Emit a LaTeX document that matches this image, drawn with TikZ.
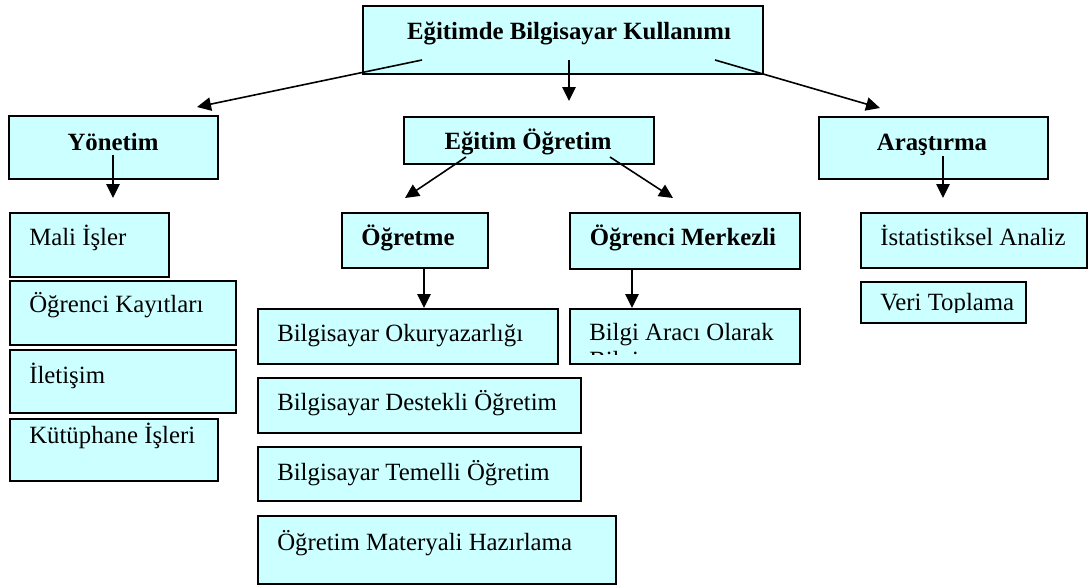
\documentclass[tikz,border=0pt]{standalone}
\usepackage{fontspec}
\setmainfont{Liberation Serif}
\usetikzlibrary{arrows.meta,calc}
\definecolor{boxfill}{HTML}{CCFFFF}
\tikzset{
  box/.style={draw=black, line width=1.3pt, fill=boxfill, inner sep=0pt, anchor=north west},
  lbl/.style={anchor=base west, inner sep=0pt, font=\fontsize{18.6}{22}\selectfont},
  blbl/.style={anchor=base, inner sep=0pt, font=\fontsize{18.6}{22}\selectfont\bfseries},
  arr/.style={line width=1.2pt, -{Triangle[length=10.5pt,width=10pt]}}
}
\newcommand\mkbox[5]{\node[box, minimum width={(#4-#2)*0.75pt}, minimum height={(#5-#3)*0.75pt}] (#1) at (#2,#3) {};}
\begin{document}
\begin{tikzpicture}[x=0.75pt,y=-0.75pt]
\useasboundingbox (0,0) rectangle (1088,586);
% boxes
\mkbox{top}{362}{5}{762}{73}
\mkbox{yon}{8}{115}{217}{178}
\mkbox{eo}{403}{116}{653}{163}
\mkbox{ara}{818}{116}{1047}{178}
\mkbox{mali}{9}{212}{168}{276}
\mkbox{kay}{9}{280}{235}{344}
\mkbox{ilet}{9}{349}{235}{412}
\mkbox{kut}{9}{418}{217}{480}
\mkbox{ogm}{341}{212}{487}{267}
\mkbox{om}{569}{212}{799}{268}
\mkbox{okur}{257}{308}{557}{363}
\mkbox{bilgi}{569}{308}{799}{363}
\mkbox{dest}{257}{377}{580}{432}
\mkbox{tem}{257}{446}{580}{500}
\mkbox{mat}{257}{515}{615}{583}
\mkbox{ist}{860}{212}{1086}{267}
\mkbox{veri}{860}{281}{1025}{322}
% bold labels
\node[blbl] (topT) at (569,39) {Eğitimde Bilgisayar Kullanımı};
\node[blbl] (yonT) at (113,150) {Yönetim};
\node[blbl] (eoT) at (528,149) {Eğitim Öğretim};
\node[blbl] (araT) at (932,150) {Araştırma};
\node[blbl] (ogmT) at (408,245) {Öğretme};
\node[blbl] (omT) at (683,245) {Öğrenci Merkezli};
% plain labels
\node[lbl] (maliT) at (29,245) {Mali İşler};
\node[lbl] (kayT) at (29,312) {Öğrenci Kayıtları};
\node[lbl] (iletT) at (29,383) {İletişim};
\node[lbl] (kutT) at (29,443) {Kütüphane İşleri};
\node[lbl] (okurT) at (277,341) {Bilgisayar Okuryazarlığı};
\node[lbl] (destT) at (277,410) {Bilgisayar Destekli Öğretim};
\node[lbl] (temT) at (277,480) {Bilgisayar Temelli Öğretim};
\node[lbl] (matT) at (277,550) {Öğretim Materyali Hazırlama};
\node[lbl] (istT) at (880,245) {İstatistiksel Analiz};
\begin{scope}
  \clip (569,308) rectangle (799,354);
  \node[lbl] (bilgiT) at (589,340) {Bilgi Aracı Olarak};
  \node[lbl] (bilgiT2) at (589,368) {Bilgisayar};
\end{scope}
\begin{scope}
  \clip (860,281) rectangle (1025,312);
  \node[lbl] (veriT) at (880,310) {Veri Toplama};
\end{scope}
% connector end points
\coordinate (s1) at (422,60);  \coordinate (e1) at (197,107);
\coordinate (s2) at (569,60);  \coordinate (e2) at (569,101);
\coordinate (s3) at (715,60);  \coordinate (e3) at (880,108);
\coordinate (s4) at (113,155); \coordinate (e4) at (113,198);
\coordinate (s5) at (466,157); \coordinate (e5) at (405,198);
\coordinate (s6) at (610,157); \coordinate (e6) at (673,198);
\coordinate (s7) at (424,267); \coordinate (e7) at (424,308);
\coordinate (s8) at (632,268); \coordinate (e8) at (632,308);
\coordinate (s9) at (943,156); \coordinate (e9) at (943,198);
\foreach \i in {1,...,9} {\draw[arr] (s\i) -- (e\i);}
\end{tikzpicture}
\end{document}
